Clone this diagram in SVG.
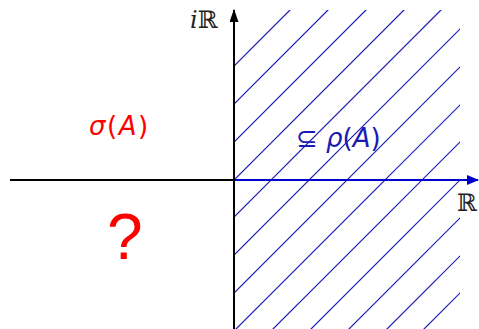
<svg xmlns="http://www.w3.org/2000/svg" width="479" height="329" viewBox="0 0 479 329">
<style>
.hatch{stroke:#1a1ab4;stroke-width:1.2;fill:none}
.ax{stroke:#000;stroke-width:2;fill:none}
.m{font-family:"DejaVu Sans",sans-serif;font-size:26px}
.bb{font-family:"DejaVu Serif",serif;font-size:24px;fill:#222}
</style>
<defs>
<clipPath id="clip"><rect x="234" y="10" width="226" height="319"/></clipPath>
<marker id="ab" markerWidth="12" markerHeight="10" refX="11" refY="5" orient="auto" markerUnits="userSpaceOnUse"><path d="M0,0 L12,5 L0,10 Z" fill="#0000cc"/></marker>
<marker id="ak" markerWidth="13" markerHeight="9" refX="12" refY="4.5" orient="auto" markerUnits="userSpaceOnUse"><path d="M0,0 L13,4.5 L0,9 Z" fill="#000"/></marker>
</defs>
<g id="hatch" clip-path="url(#clip)" class="hatch">
<line x1="234" y1="66" x2="300" y2="0"/>
<line x1="234" y1="104" x2="338" y2="0"/>
<line x1="234" y1="142" x2="376" y2="0"/>
<line x1="234" y1="180" x2="414" y2="0"/>
<line x1="234" y1="217" x2="451" y2="0"/>
<line x1="234" y1="255" x2="489" y2="0"/>
<line x1="234" y1="293" x2="527" y2="0"/>
<line x1="234" y1="331" x2="565" y2="0"/>
<line x1="234" y1="368" x2="602" y2="0"/>
<line x1="234" y1="406" x2="640" y2="0"/>
<line x1="234" y1="444" x2="678" y2="0"/>
<line x1="234" y1="482" x2="716" y2="0"/>
<line x1="234" y1="519" x2="753" y2="0"/>
</g>
<g id="connectors">
<line class="ax" x1="10" y1="180" x2="234" y2="180"/>
<line x1="234" y1="180" x2="478" y2="180" stroke="#0000cc" stroke-width="2" marker-end="url(#ab)"/>
<line class="ax" x1="234" y1="329" x2="234" y2="10" marker-end="url(#ak)"/>
</g>
<g id="labels">
<text class="bb" x="457" y="211">ℝ</text>
<text x="190" y="28" font-family="DejaVu Serif,serif" font-size="24" fill="#222"><tspan font-style="italic">i</tspan>ℝ</text>
<text class="m" x="89" y="135" fill="#ff0000" letter-spacing="1.5"><tspan font-style="italic">σ</tspan>(<tspan font-style="italic">A</tspan>)</text>
<text x="107" y="259" font-family="'Liberation Sans',sans-serif" font-size="64" fill="#ff0000">?</text>
<text class="m" x="296" y="147" fill="#1a1ab4">⊆ <tspan font-style="italic">ρ</tspan>(<tspan font-style="italic">A</tspan>)</text>
</g>
</svg>
